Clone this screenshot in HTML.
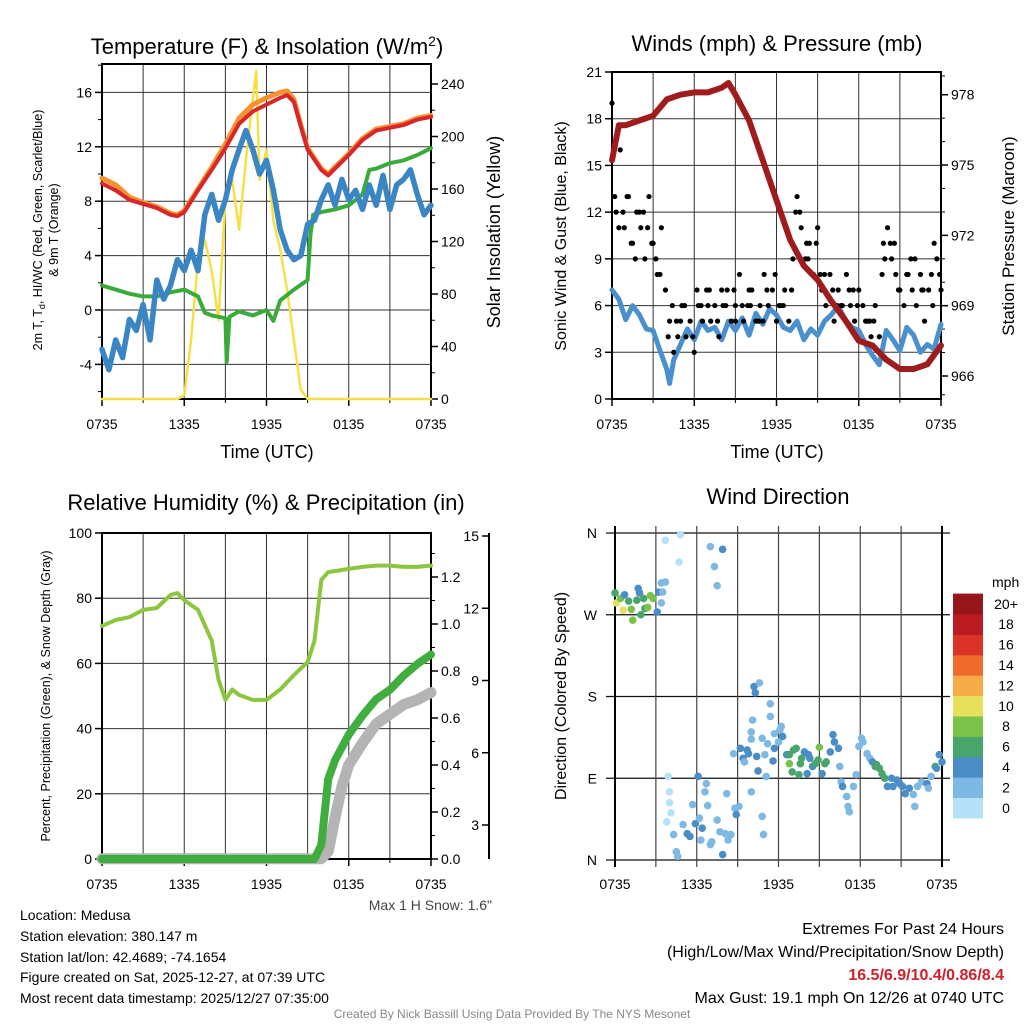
<!DOCTYPE html>
<html><head><meta charset="utf-8"><style>
body{margin:0;background:#fff;}
svg{display:block;font-family:"Liberation Sans",sans-serif;}
</style></head><body>
<svg id="c" width="1024" height="1024" viewBox="0 0 1024 1024" xmlns="http://www.w3.org/2000/svg">
<rect width="1024" height="1024" fill="#fff"/>
<g id="g1"></g>
<g id="g2"></g>
<g id="g3"></g>
<g id="g4"></g>
<g id="txt">
<text x="267" y="54" font-size="22" text-anchor="middle">Temperature (F) &amp; Insolation (W/m<tspan dy="-8" font-size="14">2</tspan><tspan dy="8">)</tspan></text>
<text x="777" y="51" font-size="22" text-anchor="middle">Winds (mph) &amp; Pressure (mb)</text>
<text x="266" y="510" font-size="22" text-anchor="middle">Relative Humidity (%) &amp; Precipitation (in)</text>
<text x="778" y="504" font-size="22" text-anchor="middle">Wind Direction</text>
<text x="267" y="458" font-size="18" text-anchor="middle">Time (UTC)</text>
<text x="777" y="458" font-size="18" text-anchor="middle">Time (UTC)</text>
<text transform="translate(42,230) rotate(-90)" font-size="12.5" text-anchor="middle">2m T, T<tspan font-size="9" dy="3">d</tspan><tspan dy="-3">, HI/WC (Red, Green, Scarlet/Blue)</tspan></text>
<text transform="translate(58,230) rotate(-90)" font-size="12.5" text-anchor="middle">&amp; 9m T (Orange)</text>
<text transform="translate(500,232) rotate(-90)" font-size="18" text-anchor="middle">Solar Insolation (Yellow)</text>
<text transform="translate(566,236) rotate(-90)" font-size="16" text-anchor="middle">Sonic Wind &amp; Gust (Blue, Black)</text>
<text transform="translate(1014,236) rotate(-90)" font-size="17" text-anchor="middle">Station Pressure (Maroon)</text>
<text transform="translate(50,696) rotate(-90)" font-size="12.5" text-anchor="middle">Percent, Precipitation (Green), &amp; Snow Depth (Gray)</text>
<text transform="translate(566,696) rotate(-90)" font-size="16" text-anchor="middle">Direction (Colored By Speed)</text>
<text x="492" y="910" font-size="14" fill="#444" text-anchor="end">Max 1 H Snow: 1.6"</text>
<g font-size="14">
<text x="20" y="920">Location: Medusa</text>
<text x="20" y="941">Station elevation: 380.147 m</text>
<text x="20" y="962">Station lat/lon: 42.4689; -74.1654</text>
<text x="20" y="982">Figure created on Sat, 2025-12-27, at 07:39 UTC</text>
<text x="20" y="1003">Most recent data timestamp: 2025/12/27 07:35:00</text>
</g>
<g font-size="16" text-anchor="end">
<text x="1004" y="934">Extremes For Past 24 Hours</text>
<text x="1004" y="957">(High/Low/Max Wind/Precipitation/Snow Depth)</text>
<text x="1004" y="980" fill="#d0202a" font-weight="bold">16.5/6.9/10.4/0.86/8.4</text>
<text x="1004" y="1003">Max Gust: 19.1 mph On 12/26 at 0740 UTC</text>
</g>
<text x="512" y="1018" font-size="12" fill="#888" text-anchor="middle">Created By Nick Bassill Using Data Provided By The NYS Mesonet</text>
</g>
</svg>
<script>
// ---------- data ----------
const xTickLabels = ["0735","1335","1935","0135","0735"];
const xTickHours = [0,6,12,18,24];
// Panel 1
const tempHours = [0,1,2,3,4,5,5.5,6,7,8,9,10,11,12,13,13.5,14,14.5,15,16,16.5,17,18,19,20,21,22,23,24];
const tempRed = [9.3,8.8,8.1,7.8,7.5,7.0,6.9,7.2,8.8,10.3,11.9,13.7,14.6,15.1,15.6,15.8,15.3,13.5,11.8,10.3,9.9,10.4,11.4,12.5,13.2,13.4,13.6,14.0,14.2];
const temp9m = [9.7,9.2,8.3,7.9,7.6,7.1,7.0,7.3,8.9,10.5,12.2,14.1,15.1,15.6,16.0,16.1,15.5,13.6,11.9,10.4,10.0,10.5,11.5,12.6,13.3,13.5,13.7,14.1,14.3];
const dewHours = [0,1,2,3,4,5,6,7,7.5,8,9,9.1,9.3,10,11,12,12.5,13,14,15,15.2,15.4,16,17,18,19,19.5,20,21,22,23,24];
const dewVals = [1.8,1.5,1.2,1.0,1.0,1.3,1.5,1.0,-0.2,-0.4,-0.6,-3.8,-0.5,-0.1,-0.4,0.0,-0.8,0.7,1.5,2.2,5.5,7.0,7.2,7.4,7.7,8.5,10.3,10.4,10.8,11.0,11.4,11.9];
const hiwcHours = [0,0.5,1,1.5,2,2.5,3,3.5,4,4.5,5,5.5,6,6.5,7,7.5,8,8.5,9,9.5,10,10.5,11,11.5,12,12.5,13,13.5,14,14.5,15,15.5,16,16.5,17,17.5,18,18.5,19,19.5,20,20.5,21,21.5,22,22.5,23,23.5,24];
const hiwcVals = [-2.9,-4.4,-2.2,-3.5,-0.7,-1.5,0.4,-2.2,2.2,0.8,1.8,3.7,2.9,4.4,2.9,7.0,8.5,6.6,8.1,10.3,11.8,13.2,11.8,10.0,11.0,8.8,5.9,4.4,3.7,4.0,6.3,6.6,8.1,9.2,7.7,9.6,8.1,8.8,7.4,9.2,7.7,9.9,7.4,9.2,9.6,10.3,8.5,7.0,7.7];
const solarHours = [0,5.5,6,6.5,7,7.5,8,8.5,9,9.5,10,10.5,11,11.25,11.5,12,12.5,13,13.5,14,14.5,15,24];
const solarVals = [0,0,3,45,106,121,98,60,152,167,129,182,228,250,167,190,136,114,83,45,7,0,0];
const tempTicks = [-4,0,4,8,12,16];
const solarTicks = [0,40,80,120,160,200,240];
// Panel 2
const windHours = [0,0.5,1,1.5,2,2.5,3,3.5,4,4.2,4.5,5,5.5,6,6.5,7,7.5,8,8.5,9,9.5,10,10.5,11,11.5,12,12.5,13,13.5,14,14.5,15,15.5,16,16.5,17,17.5,18,18.5,19,19.5,20,20.5,21,21.5,22,22.5,23,23.5,24];
const windVals = [7.0,6.4,5.1,6.0,5.4,4.5,4.4,3.1,1.9,1.0,2.5,3.5,4.5,3.8,5.0,4.4,4.6,3.8,5.0,4.4,5.2,4.1,5.5,4.8,5.8,5.4,4.6,4.4,5.0,3.8,4.5,4.1,5.0,5.4,6.0,5.1,4.6,4.4,3.5,2.8,2.2,4.4,3.8,3.1,4.6,4.1,3.0,3.5,3.2,4.8];
const gustHours = [0,0.3,0.6,0.9,1.2,1.5,1.8,2.1,2.4,2.7,3.0,3.3,3.6,3.9,4.2,4.5,4.8,5.1,5.4,5.7,6.0,6.3,6.6,6.9,7.2,7.5,7.8,8.1,8.4,8.7,9.0,9.3,9.6,9.9,10.2,10.5,10.8,11.1,11.4,11.7,12.0,12.3,12.6,12.9,13.2,13.5,13.8,14.1,14.4,14.7,15.0,15.3,15.6,15.9,16.2,16.5,16.8,17.1,17.4,17.7,18.0,18.3,18.6,18.9,19.2,19.5,19.8,20.1,20.4,20.7,21.0,21.3,21.6,21.9,22.2,22.5,22.8,23.1,23.4,23.7,24.0];
const gustVals = [19,12,16,11,13,10,12,11,9,13,10,8,11,7,5,3,4,6,4,5,3,6,5,7,5,6,4,6,7,5,6,8,5,6,7,5,6,8,6,7,5,6,7,5,9,13,11,9,10,8,11,7,6,8,5,7,6,8,6,5,7,6,5,4,6,4,10,11,9,8,7,6,8,7,6,8,5,7,6,9,7];
const gustHours2 = [0.2,0.8,1.4,2.0,2.6,3.2,4.4,5.0,6.2,7.0,8.0,9.0,10.0,11.0,12.2,13.4,14.2,15.2,16.4,17.6,18.8,19.9,20.6,21.8,22.6,23.5,0.5,1.1,1.7,2.3,2.9,3.5,4.1,4.7,5.3,5.9,6.5,7.1,7.7,8.3,8.9,9.5,10.1,10.7,11.3,11.9,12.5,13.1,13.7,14.3,14.9,15.5,16.1,16.7,17.3,17.9,18.5,19.1,19.7,20.3,20.9,21.5,22.1,22.7,23.3,23.9];
const gustVals2 = [13,12,10,12,11,9,6,5,7,6,7,5,7,5,6,12,10,8,6,7,5,9,10,9,7,10,11,13,9,12,10,8,4,5,6,4,6,7,5,6,7,6,6,5,7,8,6,7,12,9,10,8,7,6,7,6,5,5,8,10,7,8,9,7,8,8];
const presHours = [0,0.5,1,2,3,4,5,6,7,8,8.5,9,10,11,12,13,14,15,16,17,18,19,20,21,22,23,24];
const presVals = [975.2,976.7,976.7,976.9,977.1,977.8,978.0,978.1,978.1,978.3,978.5,978.0,976.9,975.2,973.5,971.8,970.7,970.1,969.2,968.4,967.5,967.3,966.7,966.3,966.3,966.5,967.3];
const windTicks = [0,3,6,9,12,15,18,21];
const presTicks = [966,969,972,975,978];
// Panel 3
const rhHours = [0,1,2,3,4,5,5.5,6,7,8,8.5,9,9.5,10,11,12,13,14,15,15.5,16,16.5,17,18,19,20,21,22,23,24];
const rhVals = [71.5,73.3,74.2,76.4,77,81,81.6,79.4,76.4,67,55,48.8,52,50.3,48.8,48.8,52,56.4,60.4,67,85.6,88,88.3,89,89.6,90,90,89.6,89.6,90];
const precipHours = [0,15.5,16,16.5,17,18,19,20,21,22,23,24];
const precipVals = [0,0,0.06,0.34,0.42,0.53,0.61,0.68,0.72,0.78,0.83,0.87];
const snowHours = [0,16,16.5,17,17.5,18,19,20,21,22,23,24];
const snowVals = [1.6,1.6,1.9,3.3,4.6,5.5,6.4,7.2,7.6,8.0,8.2,8.5];
const rhTicks = [0,20,40,60,80,100];
const precipTicks = [0,0.2,0.4,0.6,0.8,1.0,1.2];
const snowTicks = [3,6,9,12,15];
// Panel 4
const dirHours = [0,0.1,0.4,0.6,0.7,1.0,1.2,1.3,1.6,1.7,1.8,1.9,2.1,2.2,2.4,2.6,2.8,3.1,3.2,3.4,3.5,3.4,3.7,3.7,4.8,4.7,7.0,7.9,7.3,7.5,
3.9,4.0,4.0,4.1,3.8,4.3,4.5,4.6,5.0,5.3,5.5,5.7,5.9,6.1,6.2,6.4,6.3,6.6,6.7,6.8,7.0,7.1,7.5,7.7,7.9,8.1,8.2,8.3,8.5,8.8,8.9,9.1,10.0,10.8,10.9,
8.7,9.2,9.4,9.5,9.7,9.8,10.0,10.0,10.1,10.2,10.3,10.4,10.5,10.6,10.8,11.0,11.1,11.2,11.4,11.4,11.6,11.7,11.7,12.0,12.1,12.2,12.3,12.6,12.8,12.8,13.0,13.1,13.3,13.5,13.6,13.7,13.9,14.1,14.2,14.3,14.5,14.7,14.9,15.0,15.2,15.4,15.5,15.8,16.0,16.1,16.4,16.5,16.6,16.7,17.0,17.1,17.2,17.5,17.7,17.9,18.1,18.2,18.5,18.7,18.9,19.1,19.2,19.4,19.6,19.8,20.0,20.3,20.4,20.7,20.9,21.1,21.3,21.6,21.9,22.0,22.2,22.5,22.9,23.0,23.2,23.5,23.6,23.8,24.0];
const dirDeg = [294,283,288,275,292,285,276,264,286,299,294,270,288,277,278,291,288,273,295,305,295,283,306,352,358,328,345,342,323,302,
92,75,63,52,42,28,9,4,39,29,26,61,40,92,46,35,22,75,84,60,17,20,44,31,6,29,73,22,28,57,50,59,75,48,28,
117,123,112,108,121,117,141,133,154,191,184,114,98,195,134,116,92,128,158,172,109,123,139,130,143,147,136,116,116,106,97,121,123,94,106,112,119,95,116,112,103,106,110,124,95,106,108,119,138,130,123,103,86,81,70,59,53,81,94,125,134,130,117,112,108,103,105,101,95,90,81,90,81,88,84,81,73,79,72,59,81,86,84,79,92,103,101,116,108];
const dirSpeed = [7,11,9,11,5,7,9,9,7,5,5,7,7,7,9,9,9,5,5,3,3,3,3,1,1,1,3,5,3,3,
1,1,1,1,1,3,3,3,3,5,5,3,5,5,3,5,3,3,3,3,3,3,3,3,5,3,3,3,3,3,5,3,3,3,3,
3,5,5,3,5,5,3,3,3,5,5,5,5,3,3,3,3,3,3,3,5,5,3,3,3,3,5,5,7,9,7,7,7,7,7,7,5,5,5,5,5,7,7,9,5,7,7,5,5,5,5,3,3,5,3,3,3,3,3,3,3,3,3,3,5,7,7,7,7,7,5,5,5,5,5,5,5,5,3,3,3,3,5,3,3,7,5,5,5];
const dirTickLabels = ["N","E","S","W","N"];
const dirTickDeg = [0,90,180,270,360];
const speedLevels = ["0","2","4","6","8","10","12","14","16","18","20+"];
const speedColors = ["#b5e2f8","#7db9e3","#4a8dc7","#48a56c","#7ac24a","#e6e05c","#f6aa48","#ee6a2d","#dc3329","#bb1c24","#951519"];

// ---------- helpers ----------
const NS="http://www.w3.org/2000/svg";
function mk(parent,tag,attrs){const e=document.createElementNS(NS,tag);for(const k in attrs)e.setAttribute(k,attrs[k]);parent.appendChild(e);return e;}
function lin(d0,d1,r0,r1){return v=>r0+(v-d0)*(r1-r0)/(d1-d0);}
function pathD(xs,ys,sx,sy){return xs.map((h,i)=>(i?"L":"M")+sx(h).toFixed(1)+","+sy(ys[i]).toFixed(1)).join("");}
function drawLine(g,xs,ys,sx,sy,color,w,name){
  const p=mk(g,"path",{d:pathD(xs,ys,sx,sy),fill:"none",stroke:color,"stroke-width":w,"stroke-linejoin":"round","stroke-linecap":"round"});
  
  
  return p;
}
function frame(g,x0,x1,y0,y1,sx){
  [3,6,9,12,15,18,21].forEach(h=>{const l=mk(g,"line",{x1:sx(h),x2:sx(h),y1:y0,y2:y1,stroke:"#333","stroke-width":1});
    
    });
  const r=mk(g,"rect",{x:x0,y:y0,width:x1-x0,height:y1-y0,fill:"none",stroke:"#000","stroke-width":2});
  
  
  xTickHours.forEach((h,i)=>{
    mk(g,"line",{x1:sx(h),x2:sx(h),y1:y1,y2:y1+7,stroke:"#000","stroke-width":1.5});
    const t=mk(g,"text",{x:sx(h),y:y1+30,"font-size":14,"text-anchor":"middle"});t.textContent=xTickLabels[i];
    
    
  });
  [3,9,15,21].forEach(h=>mk(g,"line",{x1:sx(h),x2:sx(h),y1:y1,y2:y1+4,stroke:"#000","stroke-width":1}));
}
function hgrid(g,ticks,sy,x0,x1){ticks.forEach(v=>{const l=mk(g,"line",{x1:x0,x2:x1,y1:sy(v),y2:sy(v),stroke:"#333","stroke-width":1});
  
  });}
function yAxis(g,ticks,sy,x,side,fmt,fs,minor){
  ticks.forEach(v=>{const y=sy(v);
    mk(g,"line",{x1:x,x2:x+(side<0?-7:7),y1:y,y2:y,stroke:"#000","stroke-width":1.5});
    const t=mk(g,"text",{x:x+(side<0?-10:10),y:y+5,"font-size":fs,"text-anchor":side<0?"end":"start"});t.textContent=fmt(v);
    
    
  });
  if(minor){minor.forEach(v=>mk(g,"line",{x1:x,x2:x+(side<0?-4:4),y1:sy(v),y2:sy(v),stroke:"#000","stroke-width":1}));}
}

// ---------- Panel 1 ----------
(function(){
  const g=document.getElementById("g1");
  const x0=102,x1=431,y0=64,y1=399;
  const sx=lin(0,24,x0,x1), sy=lin(0,4,310,255.6), ss=lin(0,240,399,84);
  hgrid(g,tempTicks,sy,x0,x1);
  frame(g,x0,x1,y0,y1,sx);
  yAxis(g,tempTicks,sy,x0,-1,v=>String(v),14,[-6,-2,2,6,10,14,18].filter(v=>sy(v)>y0&&sy(v)<y1));
  yAxis(g,solarTicks,ss,x1,1,v=>String(v),14,[20,60,100,140,180,220,260].filter(v=>ss(v)>y0));
  drawLine(g,solarHours,solarVals,sx,ss,"#f7df45",2.5,"solar-line");
  drawLine(g,dewHours,dewVals,sx,sy,"#3aab3a",4,"dewpoint-line");
  drawLine(g,hiwcHours,hiwcVals,sx,sy,"#3a86c4",5.5,"hiwc-line");
  drawLine(g,tempHours,temp9m,sx,sy,"#f5922e",5,"temp-9m-line");
  drawLine(g,tempHours,tempRed,sx,sy,"#d8262a",4,"temp-2m-line");
})();

// ---------- Panel 2 ----------
(function(){
  const g=document.getElementById("g2");
  const x0=612,x1=941,y0=72,y1=399;
  const sx=lin(0,24,x0,x1), sy=lin(0,21,399,72), sp=lin(966,978,376,94.7);
  hgrid(g,windTicks,sy,x0,x1);
  frame(g,x0,x1,y0,y1,sx);
  yAxis(g,windTicks,sy,x0,-1,v=>String(v),14,null);
  yAxis(g,presTicks,sp,x1,1,v=>String(v),14,[967,968,970,971,973,974,976,977,965.2,978.8].filter(v=>sp(v)>y0&&sp(v)<y1));
  drawLine(g,windHours,windVals,sx,sy,"#4a90cf",5,"wind-line");
  gustHours.forEach((h,i)=>{const c=mk(g,"circle",{cx:sx(h),cy:sy(gustVals[i]),r:2.6,fill:"#000"});
    
    });
  gustHours2.forEach((h,i)=>{const c=mk(g,"circle",{cx:sx(h),cy:sy(gustVals2[i]),r:2.6,fill:"#000"});
    
    });
  drawLine(g,presHours,presVals,sx,sp,"#a01c1c",6,"pressure-line");
})();

// ---------- Panel 3 ----------
(function(){
  const g=document.getElementById("g3");
  const x0=102,x1=431,y0=533,y1=859;
  const sx=lin(0,24,x0,x1), sy=lin(0,100,859,533), sp=lin(0,1.2,859,577), sn=lin(3,15,825,536);
  hgrid(g,rhTicks,sy,x0,x1);
  frame(g,x0,x1,y0,y1,sx);
  yAxis(g,rhTicks,sy,x0,-1,v=>String(v),14,null);
  yAxis(g,precipTicks,sp,x1,1,v=>v.toFixed(1),14,[0.1,0.3,0.5,0.7,0.9,1.1,1.3]);
  const ax=mk(g,"line",{x1:489,x2:489,y1:533,y2:859,stroke:"#000","stroke-width":2});
  
  
  yAxis(g,snowTicks,sn,489,-1,v=>String(v),14,null);
  drawLine(g,snowHours,snowVals,sx,sn,"#b4b4b4",11,"snow-depth-line");
  drawLine(g,precipHours,precipVals,sx,sp,"#3fae3f",8,"precip-line");
  drawLine(g,rhHours,rhVals,sx,sy,"#8cc63f",4,"humidity-line");
})();

// ---------- Panel 4 ----------
(function(){
  const g=document.getElementById("g4");
  const x0=615,x1=942,y0=533,y1=860;
  const sx=lin(0,24,x0,x1), sy=lin(0,360,y1,y0);
  dirTickDeg.forEach((d,i)=>{const l=mk(g,"line",{x1:606,x2:950,y1:sy(d),y2:sy(d),stroke:"#111","stroke-width":1.2});
    
    
    const t=mk(g,"text",{x:597,y:sy(d)+5,"font-size":14,"text-anchor":"end"});t.textContent=dirTickLabels[i];
    
    });
  [0,3,6,9,12,15,18,21,24].forEach(h=>{const l=mk(g,"line",{x1:sx(h),x2:sx(h),y1:526,y2:867,stroke:(h%24?"#444":"#000"),"stroke-width":(h%24?1.2:2)});
    
    });
  xTickHours.forEach((h,i)=>{const t=mk(g,"text",{x:sx(h),y:889,"font-size":14,"text-anchor":"middle"});t.textContent=xTickLabels[i];
    
    });
  dirHours.forEach((h,i)=>{const s=dirSpeed[i];
    const c=mk(g,"circle",{cx:sx(h),cy:sy(dirDeg[i]),r:3.8,fill:speedColors[Math.min(10,Math.floor(s/2))]});
    
    });
  const cb0=818,bh=20.4;
  speedLevels.forEach((lab,i)=>{
    const r=mk(g,"rect",{x:953,y:cb0-(i+1)*bh,width:30,height:bh+0.5,fill:speedColors[i]});
    
    
    const t=mk(g,"text",{x:1006,y:cb0-(i+0.5)*bh+5,"font-size":14,"text-anchor":"middle"});t.textContent=lab;
    
    
  });
  const m=mk(g,"text",{x:992,y:587,"font-size":14});m.textContent="mph";
  
  
})();
</script>
</body></html>
